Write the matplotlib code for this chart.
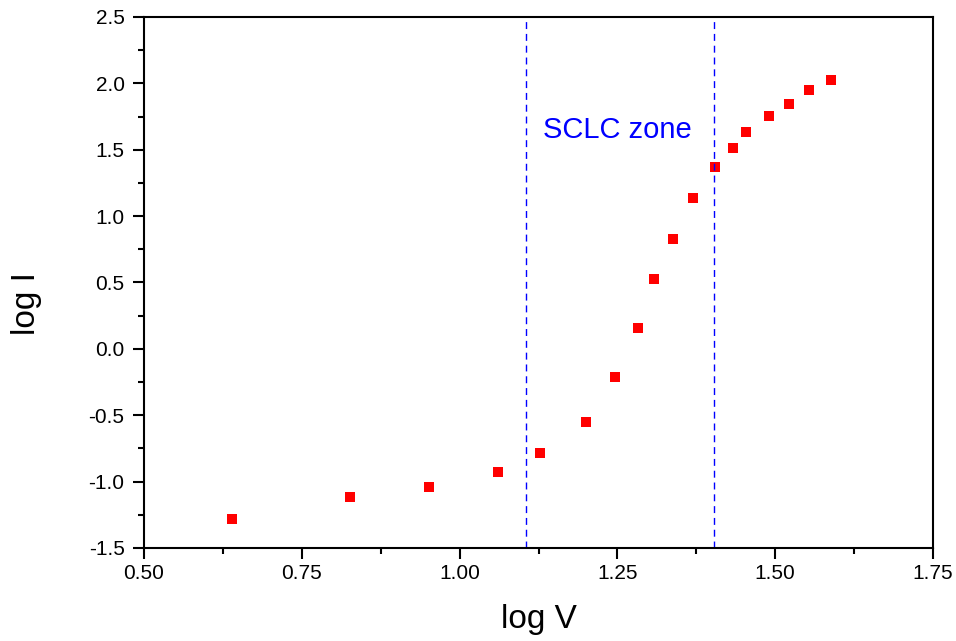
import matplotlib
matplotlib.use("Agg")
import matplotlib.pyplot as plt
from matplotlib.ticker import MultipleLocator, FormatStrFormatter

plt.rcParams['font.family'] = ['Liberation Sans', 'DejaVu Sans']
plt.rcParams['axes.unicode_minus'] = False

log_v = [0.639, 0.826, 0.952, 1.061, 1.127, 1.200, 1.246, 1.283, 1.308,
         1.338, 1.370, 1.405, 1.433, 1.454, 1.490, 1.522, 1.554, 1.588]
log_i = [-1.282, -1.116, -1.040, -0.928, -0.785, -0.551, -0.212, 0.157, 0.526,
         0.828, 1.137, 1.370, 1.513, 1.634, 1.754, 1.845, 1.950, 2.025]
zone_bounds = [1.105, 1.403]
zone_label = "SCLC zone"

fig = plt.figure(figsize=(9.56, 6.41), dpi=100)
ax = fig.add_axes([0.1506, 0.1451, 0.8254, 0.8284])

ax.plot(log_v, log_i, linestyle='none', marker='s', markersize=7,
        color='#ff0000', markeredgewidth=0)
for xb in zone_bounds:
    ax.axvline(xb, color='#0000ff', linestyle=(0, (5, 3.5)), linewidth=1.0)
ax.text(1.132, 1.65, zone_label, color='#0000ff', fontsize=21,
        ha='left', va='center')

ax.set_xlim(0.5, 1.75)
ax.set_ylim(-1.5, 2.5)
ax.xaxis.set_major_locator(MultipleLocator(0.25))
ax.xaxis.set_minor_locator(MultipleLocator(0.125))
ax.yaxis.set_major_locator(MultipleLocator(0.5))
ax.yaxis.set_minor_locator(MultipleLocator(0.25))
ax.xaxis.set_major_formatter(FormatStrFormatter('%.2f'))
ax.yaxis.set_major_formatter(FormatStrFormatter('%.1f'))

ax.tick_params(which='major', direction='out', length=8, width=1.5,
               labelsize=15, top=False, right=False)
ax.tick_params(axis='y', which='major', pad=6)
ax.tick_params(which='minor', direction='out', length=4, width=1.5,
               top=False, right=False)
for s in ax.spines.values():
    s.set_linewidth(1.5)

ax.set_xlabel('log V', fontsize=24, labelpad=15)
ax.set_ylabel('log I', fontsize=24)
ax.yaxis.set_label_coords(-0.1293, 0.461)

fig.savefig('out.png', dpi=100)
